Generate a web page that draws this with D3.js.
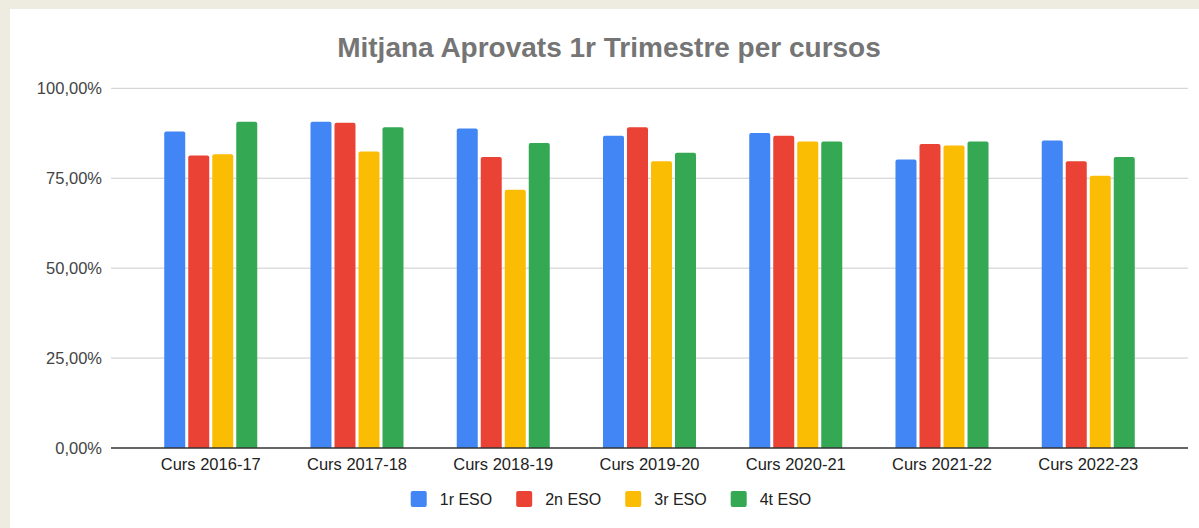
<!DOCTYPE html>
<html>
<head>
<meta charset="utf-8">
<script src="https://cdn.jsdelivr.net/npm/d3@7"></script>
<style>
  html, body { margin: 0; padding: 0; background: #eeebe1; }
  svg { display: block; }
  text { font-family: "Liberation Sans", Arial, sans-serif; }
</style>
</head>
<body>
<div id="root"></div>
<script>
// data (percent)
const cursos = ['Curs 2016-17', 'Curs 2017-18', 'Curs 2018-19', 'Curs 2019-20', 'Curs 2020-21', 'Curs 2021-22', 'Curs 2022-23']
const series = ['1r ESO', '2n ESO', '3r ESO', '4t ESO']
const eso1 = [88.0, 90.7, 88.8, 86.8, 87.6, 80.2, 85.5]
const eso2 = [81.3, 90.4, 80.9, 89.2, 86.8, 84.5, 79.7]
const eso3 = [81.7, 82.4, 71.8, 79.7, 85.2, 84.1, 75.7]
const eso4 = [90.7, 89.2, 84.8, 82.1, 85.2, 85.2, 80.9]
const yTicks = [0, 0.25, 0.5, 0.75, 1]
const colors = ['#4285f4', '#ea4335', '#fbbc04', '#34a853']

const values = [eso1, eso2, eso3, eso4]

const width = 1199
const height = 528
const margin = { top: 88.3, right: 11, bottom: 80, left: 111 }

const svg = d3.select('#root').append('svg')
    .attr('width', width)
    .attr('height', height)

// white card
svg.append('rect')
    .attr('x', 10).attr('y', 9)
    .attr('width', width - 10).attr('height', height - 9)
    .attr('fill', '#fff')

const locale = d3.formatLocale({ decimal: ',', thousands: '.', grouping: [3], currency: ['', '€'] })
const pct = locale.format('.2%')

const x0 = d3.scaleBand()
    .domain(cursos)
    .range([margin.left, width - margin.right])
    .padding(0.364)

const x1 = d3.scaleBand()
    .domain(series)
    .range([0, x0.bandwidth()])
    .paddingInner(0.125)
    .paddingOuter(0)

const y = d3.scaleLinear()
    .domain([0, 1])
    .range([448, margin.top])

// gridlines
svg.append('g')
    .selectAll('line')
    .data(yTicks.filter(d => d > 0))
    .enter().append('line')
    .attr('x1', margin.left)
    .attr('x2', width - margin.right)
    .attr('y1', d => y(d))
    .attr('y2', d => y(d))
    .attr('stroke', '#cccccc')
    .attr('stroke-width', 1)

// y axis labels
const yAxis = svg.append('g')
    .attr('transform', 'translate(' + margin.left + ',0)')
    .call(d3.axisLeft(y).tickValues(yTicks).tickFormat(pct).tickSize(0).tickPadding(9))
yAxis.select('.domain').remove()
yAxis.selectAll('text')
    .style('font-size', '16.5px')
    .style('font-family', '"Liberation Sans", Arial, sans-serif')
    .attr('fill', '#444')

// rounded-top bar path
const barPath = (x, yTop, w, yBase, r) => {
    r = Math.min(r, (yBase - yTop) / 2)
    return 'M' + x + ',' + yBase
        + 'V' + (yTop + r)
        + 'Q' + x + ',' + yTop + ' ' + (x + r) + ',' + yTop
        + 'H' + (x + w - r)
        + 'Q' + (x + w) + ',' + yTop + ' ' + (x + w) + ',' + (yTop + r)
        + 'V' + yBase + 'Z'
}

// bars
const groups = svg.append('g')
    .selectAll('g')
    .data(cursos)
    .enter().append('g')
    .attr('transform', d => 'translate(' + x0(d) + ',0)')

groups.selectAll('path')
    .data((c, i) => series.map((s, j) => ({ serie: s, v: values[j][i] / 100, j })))
    .enter().append('path')
    .attr('fill', d => colors[d.j])
    .attr('d', d => barPath(x1(d.serie), y(d.v), x1.bandwidth(), y(0), 2))

// baseline
svg.append('line')
    .attr('x1', margin.left)
    .attr('x2', width - margin.right)
    .attr('y1', y(0))
    .attr('y2', y(0))
    .attr('stroke', '#333')
    .attr('stroke-width', 1.3)

// x axis labels
const xAxis = svg.append('g')
    .attr('transform', 'translate(0,' + y(0) + ')')
    .call(d3.axisBottom(x0).tickSize(0).tickPadding(10))
xAxis.select('.domain').remove()
xAxis.selectAll('text')
    .style('font-size', '16.5px')
    .style('font-family', '"Liberation Sans", Arial, sans-serif')
    .attr('fill', '#222')

// title
svg.append('text')
    .attr('x', 609)
    .attr('y', 57)
    .attr('text-anchor', 'middle')
    .style('font-size', '28px')
    .style('font-weight', 'bold')
    .attr('fill', '#757575')
    .text('Mitjana Aprovats 1r Trimestre per cursos')

// legend
const legend = svg.append('g')
const items = legend.selectAll('g')
    .data(series)
    .enter().append('g')
items.append('rect')
    .attr('width', 16).attr('height', 16)
    .attr('y', 491)
    .attr('rx', 2)
    .attr('fill', (d, i) => colors[i])
items.append('text')
    .attr('x', 29)
    .attr('y', 505)
    .style('font-size', '16px')
    .attr('fill', '#222')
    .text(d => d)

let cx = 0
items.each(function() {
    const w = this.querySelector('text').getComputedTextLength()
    d3.select(this).attr('transform', 'translate(' + cx + ',0)')
    cx += 29 + w + 24
})
const legendW = cx - 24
legend.attr('transform', 'translate(' + (611 - legendW / 2) + ',0)')
</script>
</body>
</html>
